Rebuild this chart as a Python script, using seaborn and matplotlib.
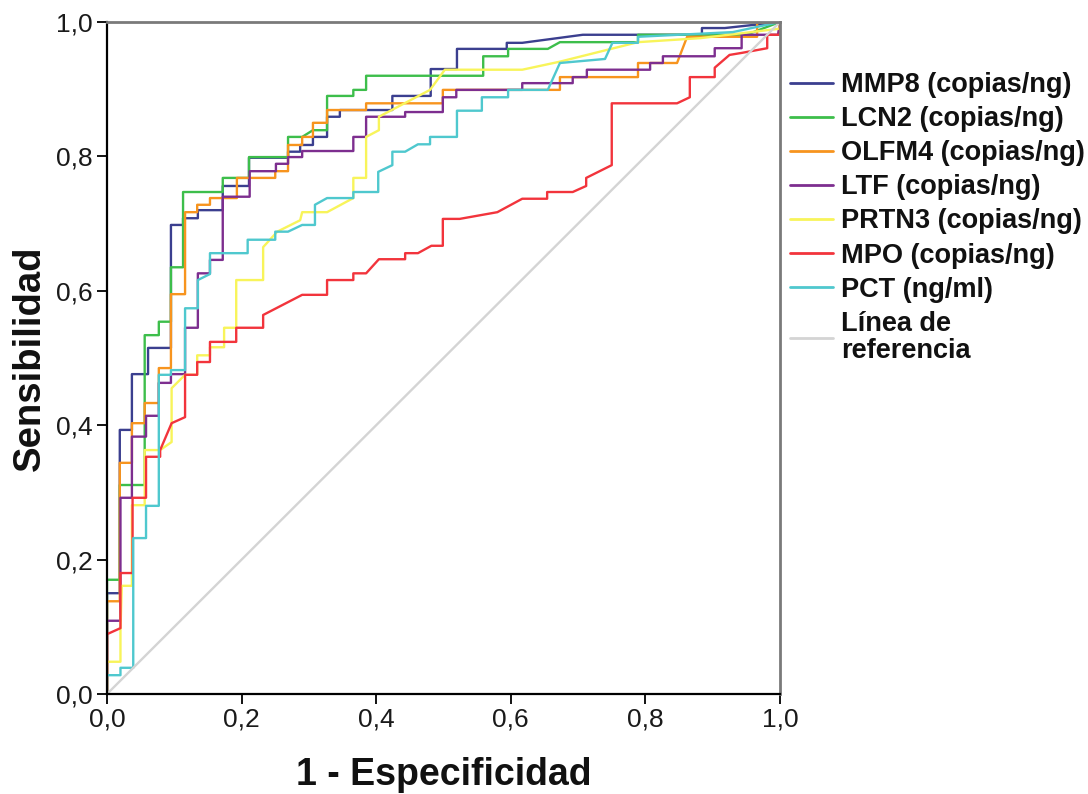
import matplotlib
matplotlib.use("Agg")
import matplotlib.pyplot as plt
import numpy as np
import pandas as pd
import seaborn as sns
from matplotlib.ticker import FixedLocator, FixedFormatter

# ---------------- data ----------------
series_names = ["MMP8 (copias/ng)", "LCN2 (copias/ng)", "OLFM4 (copias/ng)",
                "LTF (copias/ng)", "PRTN3 (copias/ng)", "MPO (copias/ng)",
                "PCT (ng/ml)", "Línea de\nreferencia"]

colors = ["#3B3F8F", "#3DBE4B", "#F7941E", "#7D2E8F", "#F8F45A",
          "#F2343C", "#4FC8CE", "#D4D4D4"]

fpr_mmp8 = [0, 0, 0.019, 0.019, 0.037, 0.037, 0.061, 0.061, 0.095, 0.095, 0.113, 0.113,
            0.135, 0.135, 0.172, 0.172, 0.211, 0.211, 0.269, 0.269, 0.287, 0.287, 0.306, 0.306,
            0.327, 0.327, 0.346, 0.346, 0.424, 0.424, 0.481, 0.481, 0.520, 0.520, 0.594, 0.594,
            0.617, 0.707, 0.884, 0.884, 0.918, 1.0]
sens_mmp8 = [0, 0.150, 0.150, 0.393, 0.393, 0.476, 0.476, 0.515, 0.515, 0.698, 0.698, 0.708,
             0.708, 0.720, 0.720, 0.756, 0.756, 0.798, 0.798, 0.807, 0.807, 0.817, 0.817, 0.829,
             0.829, 0.859, 0.859, 0.869, 0.869, 0.890, 0.890, 0.930, 0.930, 0.960, 0.960, 0.969,
             0.969, 0.981, 0.981, 0.991, 0.991, 1.0]

fpr_lcn2 = [0, 0, 0.019, 0.019, 0.056, 0.056, 0.077, 0.077, 0.095, 0.095, 0.113, 0.113,
            0.172, 0.172, 0.211, 0.211, 0.269, 0.269, 0.290, 0.306, 0.327, 0.327, 0.366, 0.366,
            0.385, 0.385, 0.559, 0.559, 0.596, 0.596, 0.655, 0.673, 0.789, 0.789, 0.950, 1.0]
sens_lcn2 = [0, 0.170, 0.170, 0.311, 0.311, 0.534, 0.534, 0.554, 0.554, 0.635, 0.635, 0.747,
             0.747, 0.768, 0.768, 0.799, 0.799, 0.829, 0.829, 0.839, 0.839, 0.890, 0.890, 0.899,
             0.899, 0.920, 0.920, 0.949, 0.949, 0.960, 0.960, 0.970, 0.970, 0.981, 0.981, 1.0]

fpr_olfm4 = [0, 0, 0.019, 0.019, 0.037, 0.037, 0.056, 0.056, 0.077, 0.077, 0.095, 0.095,
             0.116, 0.116, 0.134, 0.134, 0.153, 0.153, 0.193, 0.193, 0.250, 0.250, 0.269, 0.269,
             0.290, 0.290, 0.306, 0.306, 0.327, 0.327, 0.385, 0.385, 0.499, 0.499, 0.673, 0.673,
             0.789, 0.789, 0.847, 0.862, 0.966, 0.966, 1.0]
sens_olfm4 = [0, 0.138, 0.138, 0.344, 0.344, 0.403, 0.403, 0.433, 0.433, 0.485, 0.485, 0.595,
              0.595, 0.717, 0.717, 0.728, 0.728, 0.738, 0.738, 0.768, 0.768, 0.778, 0.778, 0.817,
              0.817, 0.829, 0.829, 0.850, 0.850, 0.869, 0.869, 0.879, 0.879, 0.899, 0.899, 0.918,
              0.918, 0.939, 0.939, 0.978, 0.978, 0.999, 1.0]

fpr_ltf = [0, 0, 0.020, 0.020, 0.037, 0.037, 0.058, 0.058, 0.077, 0.077, 0.095, 0.095,
           0.116, 0.116, 0.135, 0.135, 0.153, 0.153, 0.172, 0.172, 0.212, 0.212, 0.251, 0.251,
           0.269, 0.269, 0.290, 0.290, 0.366, 0.366, 0.385, 0.385, 0.443, 0.443, 0.499, 0.499,
           0.519, 0.519, 0.617, 0.617, 0.692, 0.692, 0.713, 0.713, 0.807, 0.807, 0.826, 0.826,
           0.903, 0.903, 0.943, 0.943, 0.997, 1.0]
sens_ltf = [0, 0.109, 0.109, 0.292, 0.292, 0.383, 0.383, 0.414, 0.414, 0.463, 0.463, 0.476,
            0.476, 0.545, 0.545, 0.626, 0.626, 0.646, 0.646, 0.740, 0.740, 0.778, 0.778, 0.789,
            0.789, 0.799, 0.799, 0.808, 0.808, 0.829, 0.829, 0.859, 0.859, 0.866, 0.866, 0.888,
            0.888, 0.899, 0.899, 0.909, 0.909, 0.918, 0.918, 0.929, 0.929, 0.939, 0.939, 0.949,
            0.949, 0.961, 0.961, 0.981, 0.981, 1.0]

fpr_prtn3 = [0, 0, 0.020, 0.020, 0.022, 0.037, 0.037, 0.056, 0.056, 0.079, 0.096, 0.096,
             0.116, 0.134, 0.134, 0.153, 0.153, 0.174, 0.174, 0.192, 0.192, 0.232, 0.232, 0.253,
             0.287, 0.290, 0.327, 0.366, 0.366, 0.385, 0.385, 0.404, 0.404, 0.480, 0.502, 0.617,
             0.673, 0.789, 0.882, 0.999, 1.0]
sens_prtn3 = [0, 0.048, 0.048, 0.095, 0.161, 0.161, 0.281, 0.281, 0.363, 0.363, 0.375, 0.455,
              0.475, 0.475, 0.504, 0.504, 0.516, 0.516, 0.545, 0.545, 0.616, 0.616, 0.665, 0.688,
              0.705, 0.717, 0.717, 0.738, 0.768, 0.768, 0.829, 0.839, 0.859, 0.899, 0.929, 0.929,
              0.941, 0.970, 0.976, 0.990, 1.0]

fpr_mpo = [0, 0, 0.020, 0.020, 0.038, 0.038, 0.058, 0.058, 0.079, 0.079, 0.096, 0.116,
           0.116, 0.134, 0.134, 0.153, 0.153, 0.192, 0.192, 0.232, 0.232, 0.290, 0.327, 0.327,
           0.366, 0.366, 0.385, 0.404, 0.443, 0.443, 0.462, 0.482, 0.499, 0.499, 0.524, 0.580,
           0.617, 0.654, 0.654, 0.692, 0.712, 0.712, 0.750, 0.750, 0.847, 0.866, 0.866, 0.903,
           0.903, 0.925, 0.943, 0.981, 0.981, 1.0, 1.0]
sens_mpo = [0, 0.089, 0.098, 0.180, 0.180, 0.292, 0.292, 0.353, 0.353, 0.363, 0.403, 0.412,
            0.475, 0.475, 0.494, 0.494, 0.524, 0.524, 0.545, 0.545, 0.564, 0.594, 0.594, 0.616,
            0.616, 0.626, 0.626, 0.647, 0.647, 0.656, 0.656, 0.667, 0.667, 0.707, 0.707, 0.717,
            0.737, 0.737, 0.747, 0.747, 0.756, 0.768, 0.787, 0.879, 0.879, 0.888, 0.918, 0.918,
            0.932, 0.951, 0.954, 0.961, 0.981, 0.981, 1.0]

fpr_pct = [0, 0, 0.020, 0.020, 0.039, 0.039, 0.058, 0.058, 0.077, 0.077, 0.095, 0.095,
           0.116, 0.116, 0.135, 0.135, 0.153, 0.153, 0.209, 0.209, 0.250, 0.250, 0.269, 0.290,
           0.309, 0.309, 0.327, 0.366, 0.366, 0.403, 0.403, 0.424, 0.424, 0.443, 0.462, 0.480,
           0.480, 0.520, 0.520, 0.557, 0.557, 0.596, 0.596, 0.655, 0.673, 0.740, 0.751, 0.789,
           0.789, 0.930, 1.0]
sens_pct = [0, 0.028, 0.028, 0.039, 0.039, 0.232, 0.232, 0.280, 0.280, 0.475, 0.475, 0.482,
            0.482, 0.574, 0.574, 0.616, 0.625, 0.656, 0.656, 0.676, 0.676, 0.688, 0.688, 0.698,
            0.698, 0.728, 0.738, 0.738, 0.747, 0.747, 0.777, 0.787, 0.807, 0.807, 0.818, 0.818,
            0.829, 0.829, 0.868, 0.868, 0.888, 0.888, 0.899, 0.899, 0.939, 0.945, 0.969, 0.969,
            0.978, 0.985, 1.0]

fpr_ref = [0.0, 1.0]
sens_ref = [0.0, 1.0]

tick_values = [0.0, 0.2, 0.4, 0.6, 0.8, 1.0]
tick_labels = ["0,0", "0,2", "0,4", "0,6", "0,8", "1,0"]

# ---------------- build long table ----------------
fpr_all = [fpr_mmp8, fpr_lcn2, fpr_olfm4, fpr_ltf, fpr_prtn3, fpr_mpo, fpr_pct, fpr_ref]
sens_all = [sens_mmp8, sens_lcn2, sens_olfm4, sens_ltf, sens_prtn3, sens_mpo, sens_pct, sens_ref]
frames = []
for name, fx, sy in zip(series_names, fpr_all, sens_all):
    frames.append(pd.DataFrame({"fpr": fx, "sens": sy, "serie": name}))
df = pd.concat(frames, ignore_index=True)

sns.set_theme(style="white")
plt.rcParams["font.family"] = ["Liberation Sans", "DejaVu Sans"]

W, H = 1088, 794
fig = plt.figure(figsize=(W / 100, H / 100), dpi=100)
ax = fig.add_axes([107 / W, 100 / H, 673 / W, 672 / H])

sns.lineplot(data=df, x="fpr", y="sens", hue="serie", hue_order=series_names,
             palette=dict(zip(series_names, colors)), sort=False, estimator=None,
             linewidth=1.7, ax=ax)

# reference line below the curves
for ln in ax.get_lines():
    if ln.get_label() == series_names[-1]:
        ln.set_zorder(1)
        ln.set_linewidth(1.5)

ax.set_xlim(0, 1)
ax.set_ylim(0, 1)
ax.xaxis.set_major_locator(FixedLocator(tick_values))
ax.xaxis.set_major_formatter(FixedFormatter(tick_labels))
ax.yaxis.set_major_locator(FixedLocator(tick_values))
ax.yaxis.set_major_formatter(FixedFormatter(tick_labels))
ax.tick_params(axis="both", which="major", direction="out", length=7, width=1.3,
               color="black", labelsize=19, pad=3, labelcolor="#1a1a1a",
               left=True, bottom=True, top=False, right=False)

for side in ["left", "bottom"]:
    ax.spines[side].set_color("black")
    ax.spines[side].set_linewidth(1.6)
for side in ["top", "right"]:
    ax.spines[side].set_color("#7a7a7a")
    ax.spines[side].set_linewidth(2.0)

ax.set_xlabel("1 - Especificidad", fontsize=27, fontweight="bold", color="#111111")
ax.set_ylabel("Sensibilidad", fontsize=27.5, fontweight="bold", color="#111111")
ax.xaxis.set_label_coords(0.5, -0.094)
ax.yaxis.set_label_coords(-0.088, 0.5)

handles, labels = ax.get_legend_handles_labels()
leg = ax.legend(handles, labels, loc="upper left",
                bbox_to_anchor=(790 / W, 1 - 72 / H), bbox_transform=fig.transFigure,
                frameon=False, prop={"weight": "bold", "size": 19.5},
                handlelength=1.6, handletextpad=0.3, labelspacing=0.3,
                borderpad=0, borderaxespad=0)
for t in leg.get_texts():
    t.set_color("#111111")
    t.set_linespacing(1.05)
for ln in leg.get_lines():
    ln.set_linewidth(2.0)

fig.savefig("out.png", dpi=100)
